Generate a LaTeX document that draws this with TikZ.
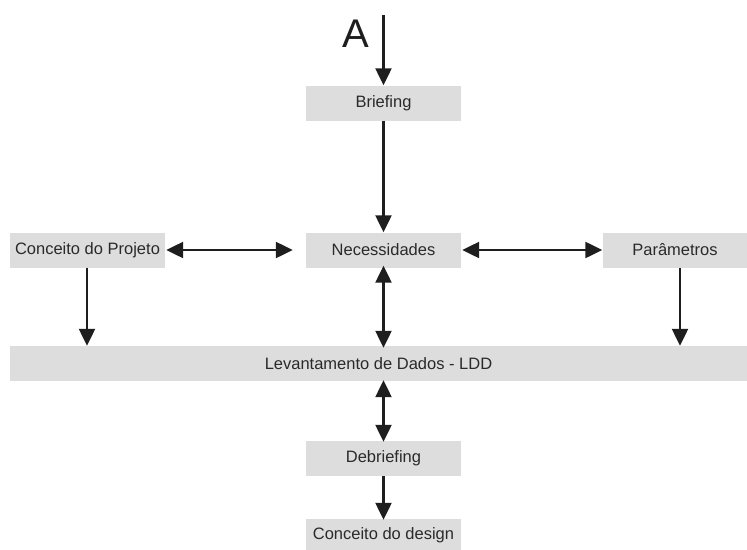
\documentclass[tikz,border=0pt]{standalone}
\usepackage{fontspec}
\setmainfont{Liberation Sans}
\usetikzlibrary{arrows.meta}
\definecolor{boxgray}{HTML}{DDDDDD}
\definecolor{ink}{HTML}{1E1E1E}
\definecolor{txt}{HTML}{2A2A2A}
\begin{document}
\begin{tikzpicture}[x=1pt,y=-1pt,
  stage/.style={fill=boxgray, draw=none, inner sep=0pt, text=txt,
    font=\fontsize{16.5}{19}\selectfont, minimum height=35pt},
  flow/.style={draw=ink, line width=2.3pt, -{Triangle[length=17pt,width=16pt]}},
  bothway/.style={draw=ink, line width=2.3pt,
    {Triangle[length=17pt,width=16pt]}-{Triangle[length=17pt,width=16pt]}}]
\useasboundingbox (0,0) rectangle (747,549);

% boxes
\node[stage, minimum width=155pt] (brief) at (383.5,103) {Briefing};
\node[stage, minimum width=155pt] (need) at (383.5,250) {Necessidades};
\node[stage, minimum width=155pt] (concproj) at (87.5,250) {Conceito do Projeto};
\node[stage, minimum width=145pt] (param) at (675,250) {Parâmetros};
\node[stage, minimum width=737pt] (ldd) at (378.5,363.5) {Levantamento de Dados - LDD};
\node[stage, minimum width=155pt] (debrief) at (383.5,458.5) {Debriefing};
\node[stage, minimum width=155pt, minimum height=32pt] (design) at (383.5,535) {Conceito do design};

% entry point A
\coordinate (start) at (383.5,15);
\node[text=ink, font=\fontsize{40}{48}\selectfont, anchor=base] (lblA) at (356,47) {A};

% connectors
\draw[flow] (start) -- (brief.north);
\draw[flow] (brief.south) -- (need.north);
\draw[bothway] ([xshift=1pt]concproj.east) -- ([xshift=-13pt]need.west);
\draw[bothway] ([xshift=1pt]need.east) -- (param.west);
\draw[flow] (concproj.south -| 87,0) -- (ldd.north -| 87,0);
\draw[flow] (param.south -| 680,0) -- (ldd.north -| 680,0);
\draw[bothway] ([yshift=2pt]need.south) -- ([yshift=-2pt]ldd.north -| need.south);
\draw[bothway] ([yshift=1pt]ldd.south -| debrief.north) -- ([yshift=-1pt]debrief.north);
\draw[flow] (debrief.south) -- ([yshift=-1pt]design.north);
\end{tikzpicture}
\end{document}
